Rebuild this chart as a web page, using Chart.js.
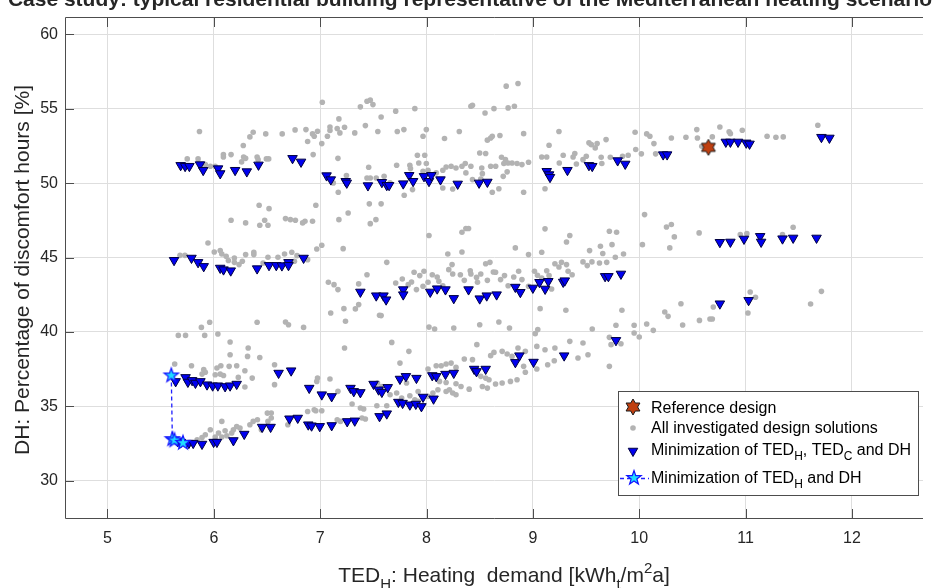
<!DOCTYPE html>
<html><head><meta charset="utf-8">
<script src="https://cdn.jsdelivr.net/npm/chart.js@4/dist/chart.umd.min.js"></script>
<style>html,body{margin:0;padding:0;background:#fff;overflow:hidden}#wrap{width:932px;height:588px;position:relative}</style>
</head><body><div id="wrap"><canvas id="c" width="932" height="588"></canvas></div>
<script>
const xTicks=[5,6,7,8,9,10,11,12];
const yTicks=[30,35,40,45,50,55,60];
const chartTitle='Case study: typical residential building representative of the Mediterranean heating scenario';
const yTitle='DH: Percentage of discomfort hours [%]';
const legendLabels=['Reference design','All investigated design solutions'];

const referenceDesign=[[10.65,52.41]];

const minTEDhDH=[[5.60,37.08],[5.61,32.80],[5.63,32.72],[5.71,32.55]];

const minTEDhTEDcDH=[
[5.688,51.2],[5.73,51.14],[5.77,51.14],[5.87,51.25],[5.90,50.87],[6.04,50.98],[6.06,50.65],[6.20,50.87],[6.31,50.78],[6.42,51.23],[6.74,51.67],[6.82,51.43],[7.06,50.51],[7.10,50.24],[7.24,50.13],[7.25,50.02],
[7.449,49.84],[7.58,50.06],[7.626,49.86],[7.648,49.86],[7.781,49.97],[7.837,50.53],[7.874,50.13],[7.976,50.46],[8.023,50.13],[8.045,50.53],[8.131,50.24],[8.293,49.95],[8.494,50.02],[8.572,50.08],[9.13,50.8],[9.152,50.58],[9.161,50.4],[9.325,50.87],[9.527,51.2],[9.558,51.14],[9.797,51.52],[9.868,51.29],
[10.225,51.92],[10.262,51.92],[10.814,52.77],[10.857,52.77],[10.929,52.77],[11.006,52.71],[11.037,52.64],[11.713,53.09],[11.788,53.04],
[5.626,44.82],[5.79,44.97],[5.852,44.68],[5.905,44.41],[6.06,44.3],[6.091,44.19],[6.159,44.12],[6.407,44.26],[6.519,44.48],[6.587,44.48],[6.64,44.46],[6.702,44.68],[6.702,44.48],[6.844,44.97],
[7.378,42.69],[7.527,42.44],[7.595,42.44],[7.62,42.17],[7.781,42.85],[7.781,42.51],[8.035,42.69],[8.1,42.91],[8.178,42.85],[8.256,42.26],[8.395,42.85],[8.5,42.24],[8.566,42.44],[8.659,42.51],[8.835,43.02],[8.882,42.67],[9.0,42.96],[9.062,43.34],[9.115,42.89],[9.145,43.41],[9.285,43.36],[9.3,43.45],[9.679,43.74],[9.71,43.74],[9.828,43.9],[9.781,39.44],
[10.758,46.03],[10.857,46.05],[10.985,46.25],[11.137,46.43],[11.146,46.05],[11.347,46.27],[11.447,46.32],[11.667,46.32],[10.758,41.9],[11.028,42.13],
[5.641,36.68],[5.734,36.95],[5.756,36.64],[5.796,36.75],[5.827,36.57],[5.874,36.68],[5.936,36.46],[5.989,36.39],[6.038,36.39],[6.106,36.34],[6.153,36.39],[6.215,36.5],[6.609,37.24],[6.727,37.4],[6.897,36.23],[7.015,35.79],[7.108,35.67],[7.285,36.23],[7.316,36.01],
[5.66,32.65],[5.69,32.6],[5.765,32.53],[5.806,32.53],[5.889,32.47],[5.998,32.6],[6.029,32.6],[6.184,32.71],[6.286,33.14],[6.454,33.61],[6.534,33.61],[6.711,34.17],[6.789,34.22],[6.888,33.77],[6.919,33.7],[6.996,33.66],[7.108,33.72],[7.254,33.99],[7.325,34.03],
[7.378,35.94],[7.502,36.5],[7.549,36.12],[7.58,35.96],[7.635,36.28],[7.75,36.84],[7.806,37.02],[7.905,36.9],[8.054,37.08],[8.091,37.02],[8.178,37.17],[8.256,37.24],[8.448,37.51],[8.47,37.35],[8.556,37.51],[8.835,37.96],[8.873,38.41],[9.006,37.98],[9.294,38.41],[7.558,34.33],[7.626,34.51],[7.735,35.29],[7.775,35.22],[7.843,35.11],[7.899,35.16],[7.952,35.0],[7.967,35.63],[8.066,35.51]
];

const allSolutions=[
[7.02,55.44],[5.865,53.47],[5.75,51.63],[5.852,51.63],[5.92,51.25],[5.967,51.14],[6.013,51.14],[6.09,51.92],[6.09,51.76],[6.162,51.92],[6.277,52.53],[6.339,53.11],[6.37,53.42],[6.488,53.31],[6.643,53.31],[6.764,53.58],[6.866,53.6],[6.882,52.8],[6.928,53.31],[6.944,53.15],[6.975,53.49],[7.015,52.66],[7.068,53.15],[7.092,53.78],[7.092,53.54],[7.16,53.67],[7.176,54.32],[7.185,53.38],[7.229,53.76],[7.325,53.38],[6.28,51.76],[6.299,51.67],[6.261,51.43],[6.407,51.76],[6.416,51.58],[6.494,51.63],[6.516,51.63],[6.934,51.92],[7.167,51.67],[7.123,50.02],[7.17,49.39],[7.247,50.51],
[7.378,55.13],[7.44,55.51],[7.471,55.58],[7.496,55.28],[7.425,53.87],[7.573,54.45],[7.542,53.47],[7.71,54.84],[7.725,53.47],[7.787,53.6],[7.89,55.01],[7.967,53.15],[7.998,53.6],[8.169,53.0],[8.308,53.47],[8.417,55.17],[8.432,55.24],[8.55,54.72],[8.634,55.01],[8.749,56.52],[8.86,56.7],[8.767,55.06],[8.826,55.17],[8.572,52.89],[8.603,53.04],[8.618,53.15],[8.69,53.2],[8.913,53.33],[8.5,52.03],[8.556,51.99],[7.456,51.07],[7.44,50.35],[7.471,50.35],[7.527,50.35],[7.601,50.46],[7.719,51.2],[7.843,51.2],[7.849,50.98],[7.914,51.88],[7.983,51.88],[7.927,51.36],[7.998,51.32],[8.014,50.87],[7.657,50.02],[7.79,49.19],[7.868,49.57],[7.967,50.8],[8.091,50.69],[8.153,50.87],[8.184,51.09],[8.231,51.14],[8.277,51.02],[8.333,51.14],[8.364,51.32],[8.417,51.14],[8.37,50.69],[8.432,50.24],[8.519,51.02],[8.525,50.64],[8.51,50.28],[8.603,51.14],[8.65,51.14],[8.705,51.74],[8.742,51.58],[8.727,51.32],[8.767,51.36],[8.804,51.36],[8.851,51.32],[8.897,51.25],[8.959,51.41],[8.721,50.46],[8.758,50.76],[8.618,49.39],[8.68,49.63],[8.153,49.68],[8.246,49.61],[8.913,49.39],[9.083,51.76],[9.13,51.76],[9.152,52.55],[9.245,53.47],[9.114,49.63],[9.248,51.36],[9.285,51.88],[9.378,51.76],[9.394,51.99],[9.409,51.29],[9.471,51.58],[9.502,51.81],[9.527,52.71],[9.549,52.59],[9.586,52.37],[9.604,52.66],[9.642,51.74],[9.648,51.32],[9.688,52.93],[9.728,51.74],[9.843,51.81],[9.896,51.88],[9.961,53.42],[9.967,52.26],[10.02,51.97],[10.07,53.31],[10.1,53.15],
[10.138,52.66],[10.154,51.97],[10.302,53.04],[10.439,53.09],[10.541,53.6],[10.547,53.04],[10.588,52.48],[10.687,53.11],[10.758,53.78],[10.845,53.45],[10.857,53.33],[10.969,53.56],[11.202,53.15],[11.285,53.09],[11.354,53.11],[11.679,53.89],
[7.263,48.0],[7.176,47.55],[6.959,48.52],[6.426,48.52],[6.519,48.29],[6.162,47.51],[6.299,47.33],[6.432,47.17],[6.478,47.51],[6.509,47.17],[6.674,47.62],[6.72,47.55],[6.767,47.51],[6.835,47.33],[6.857,47.44],[6.928,47.44],[5.945,45.98],[5.682,45.15],[5.728,45.15],[6.004,45.38],[6.06,45.47],[6.075,45.24],[6.116,45.09],[6.137,44.8],[6.193,44.97],[6.193,44.68],[6.237,44.53],[6.268,44.75],[6.299,45.2],[6.376,45.36],[6.376,45.2],[6.463,44.64],[6.509,45.02],[6.603,45.02],[6.665,45.24],[6.733,45.36],[6.758,44.75],[6.782,45.13],[6.882,44.86],[6.968,45.58],[7.015,45.83],[7.216,45.6],[7.077,43.34],[7.13,43.18],[7.167,42.85],[7.099,41.28],[7.223,41.57],[7.331,41.55],[7.238,40.72],[5.883,40.31],[5.961,40.65],[6.407,40.65],[6.674,40.67],[6.702,40.49],[6.844,40.31],
[7.462,48.61],[7.573,48.61],[7.471,47.28],[7.524,47.55],[8.023,46.48],[8.333,46.7],[8.37,46.95],[8.395,46.95],[8.2,45.24],[8.333,45.38],[8.835,45.65],[8.959,45.2],[9.114,46.93],[9.083,45.36],[9.316,46.05],[9.347,46.48],[9.533,45.47],[9.635,45.76],[9.719,46.77],[9.787,46.7],[9.657,45.27],[9.744,45.87],[9.852,45.24],[10.03,45.87],[10.05,47.89],[7.626,44.68],[7.44,43.85],[7.362,43.23],[7.71,43.29],[7.772,43.56],[7.828,43.18],[7.859,43.36],[7.883,44.01],[7.936,43.79],[7.976,44.08],[7.905,42.85],[7.967,43.07],[8.014,43.34],[8.054,43.85],[8.1,43.7],[8.116,43.41],[8.153,43.11],[8.209,44.19],[8.24,44.53],[8.246,43.9],[8.318,43.85],[8.355,43.47],[8.411,44.12],[8.417,43.9],[8.47,43.67],[8.479,43.34],[8.51,43.9],[8.556,44.59],[8.596,44.68],[8.572,43.47],[8.628,44.03],[8.649,44.01],[8.696,43.52],[8.733,43.79],[8.767,43.11],[8.82,43.7],[8.866,44.08],[8.897,43.52],[8.959,43.07],[9.015,44.08],[9.043,43.81],[9.083,43.63],[9.13,44.12],[9.152,43.79],[9.176,42.89],[9.207,44.59],[9.245,44.37],[9.269,44.68],[9.316,44.53],[9.331,44.08],[9.369,43.85],[9.471,44.71],[9.511,44.46],[9.555,44.71],[9.626,44.64],[9.694,44.68],[9.775,45.02],[7.362,41.84],[7.558,41.12],[7.573,41.1],[8.023,40.33],[8.076,40.2],[8.256,40.27],[8.5,40.49],[8.68,40.67],[8.78,40.27],[9.068,41.57],[9.31,41.46],[9.022,39.89],[9.046,40.16],[9.558,40.2],[9.781,40.45],[9.837,41.46],[9.952,40.45],[10.07,40.54],[9.719,39.64],
[10.256,47.06],[10.302,47.22],[10.33,46.39],[10.287,45.65],[10.563,46.66],[10.95,46.54],[11.012,46.61],[11.347,46.54],[11.447,47.04],[11.043,42.69],[11.093,42.33],[11.022,41.28],[10.696,41.68],[10.392,41.9],[10.24,41.34],[10.271,41.05],[10.132,40.11],[10.408,40.47],[10.566,40.78],[10.665,40.87],[10.687,40.87],[11.611,41.88],[11.713,42.73],
[5.666,39.77],[5.734,39.77],[5.914,39.77],[6.038,39.86],[6.153,39.33],[6.323,38.92],[6.153,38.47],[6.317,38.36],[6.432,38.29],[5.632,37.85],[5.79,37.73],[5.905,37.47],[5.92,37.29],[5.889,37.17],[6.029,37.58],[6.066,37.73],[6.144,37.69],[6.215,37.73],[6.013,37.13],[6.06,37.17],[6.091,37.08],[6.23,36.95],[6.292,37.4],[6.361,36.9],[6.292,36.3],[6.571,37.8],[6.571,36.46],[7.229,38.92],[6.975,36.9],[6.968,36.68],[7.092,36.84],[7.167,36.01],[7.3,35.16],[6.882,34.66],[6.944,34.77],[6.959,34.71],[7.015,34.71],[6.503,34.55],[6.54,34.55],[6.41,34.1],[6.37,33.99],[6.339,33.77],[6.246,33.54],[6.215,33.65],[6.184,33.43],[6.168,33.21],[6.122,33.03],[6.106,33.36],[6.075,33.99],[6.044,33.21],[6.013,32.94],[5.967,33.43],[5.92,33.09],[5.889,32.91],[5.843,32.76],[6.075,32.94],[6.509,33.99],[6.447,33.43],[6.54,34.22],[6.696,33.77],[7.16,34.1],[7.191,33.99],
[7.673,39.3],[7.834,38.7],[7.75,37.91],[8.473,39.15],[7.812,36.57],[7.921,36.0],[8.014,37.51],[8.091,37.73],[8.138,37.73],[8.184,37.85],[8.231,37.91],[8.277,37.62],[8.355,38.18],[8.432,38.14],[8.603,38.41],[8.634,38.63],[8.711,38.7],[8.758,38.52],[8.804,38.36],[8.86,38.92],[8.929,38.7],[9.037,39.03],[9.114,38.81],[9.207,38.92],[9.347,39.37],[9.471,39.26],[9.518,38.47],[9.424,38.25],[9.201,38.07],[9.139,37.8],[9.037,37.51],[8.913,37.69],[8.929,37.29],[8.851,36.79],[8.789,36.68],[8.711,36.57],[8.649,36.5],[8.587,36.79],[8.556,36.9],[8.51,37.02],[8.525,36.34],[8.572,36.23],[8.401,36.16],[8.324,36.34],[8.277,36.52],[8.215,36.12],[8.184,36.0],[8.107,36.12],[8.06,35.9],[8.014,35.67],[8.122,36.68],[8.184,36.61],[8.246,35.9],[8.277,35.78],[7.719,35.9],[7.766,35.56],[7.89,35.45],[7.921,35.34],[7.843,35.72],[7.533,35.04],[7.626,35.04],[7.409,34.82],[7.378,34.89],[7.393,34.22],[7.425,34.15],[9.719,37.69],[9.735,39.15],[9.828,39.21],[9.952,39.93],[10.0,39.66],[7.539,36.57],[7.58,36.34],[7.657,35.78]
];

const FONT='"Liberation Sans", Arial, Helvetica, sans-serif';
const toXY=a=>a.map(([x,y])=>({x,y}));

function starCanvas(n,R,ri,fill,stroke,lw){
  const s=Math.ceil(2*R+2*lw+2); const c=document.createElement('canvas'); c.width=c.height=s;
  const g=c.getContext('2d'); const cx=s/2, cy=s/2;
  g.beginPath();
  for(let i=0;i<n*2;i++){const a=-Math.PI/2+i*Math.PI/n; const r=(i%2)?ri:R; const px=cx+r*Math.cos(a), py=cy+r*Math.sin(a); if(i) g.lineTo(px,py); else g.moveTo(px,py);}
  g.closePath(); g.fillStyle=fill; g.fill(); g.lineWidth=lw; g.strokeStyle=stroke; g.stroke(); return c;
}
const hexImg=starCanvas(6,8,8/Math.sqrt(3),'#bf3f10','#1a1a1a',1);
const pentImg=starCanvas(5,7.5,7.5*0.40,'#20dcff','#1414ff',1.2);
const TRI_FILL='#0000f0', TRI_EDGE='#000040', GRAY='#b3b3b3';

function drawSegs(ctx,segs,x,y,size){
  let cx=x;
  segs.forEach(s=>{
    const sz=s.sub||s.sup?Math.round(size*0.72):size;
    ctx.font=sz+'px '+FONT;
    const dy=s.sub?size*0.32:(s.sup?-size*0.42:0);
    ctx.fillText(s.t,cx,y+dy);
    cx+=ctx.measureText(s.t).width;
  });
  return cx-x;
}
function segsWidth(ctx,segs,size){
  let w=0; segs.forEach(s=>{const sz=s.sub||s.sup?Math.round(size*0.72):size; ctx.font=sz+'px '+FONT; w+=ctx.measureText(s.t).width;}); return w;
}

const deco={id:'deco',afterDraw(chart){
  const {ctx,chartArea:a,scales:{x,y}}=chart;
  ctx.save();
  ctx.strokeStyle='#4d4d4d'; ctx.lineWidth=1;
  ctx.beginPath();
  ctx.moveTo(a.left-0.5,a.top-0.5); ctx.lineTo(a.left-0.5,a.bottom+0.5); ctx.lineTo(a.right,a.bottom+0.5);
  ctx.moveTo(a.left-0.5,a.top-0.5); ctx.lineTo(a.right,a.top-0.5);
  xTicks.forEach(v=>{const px=Math.round(x.getPixelForValue(v))+0.5; ctx.moveTo(px,a.bottom); ctx.lineTo(px,a.bottom-9); ctx.moveTo(px,a.top); ctx.lineTo(px,a.top+9);});
  yTicks.forEach(v=>{const py=Math.round(y.getPixelForValue(v))+0.5; ctx.moveTo(a.left,py); ctx.lineTo(a.left+8,py);});
  ctx.stroke();

  // titles
  ctx.fillStyle='#262626';
  ctx.textBaseline='alphabetic';
  ctx.textAlign='center';
  ctx.font='bold 21px '+FONT;
  ctx.fillText(chartTitle,470,6);
  ctx.textAlign='left';
  const xt=[{t:'TED'},{t:'H',sub:1},{t:': Heating  demand [kWh'},{t:'t',sub:1},{t:'/m'},{t:'2',sup:1},{t:'a]'}];
  const w=segsWidth(ctx,xt,21);
  drawSegs(ctx,xt,504-w/2,582,21);
  ctx.save(); ctx.translate(29,270); ctx.rotate(-Math.PI/2); ctx.textAlign='center'; ctx.font='21px '+FONT; ctx.fillText(yTitle,0,0); ctx.restore();

  // legend
  const L=618.5,T=391.5,W=300,H=104;
  ctx.fillStyle='#fff'; ctx.fillRect(L,T,W,H);
  ctx.strokeStyle='#4d4d4d'; ctx.strokeRect(L,T,W,H);
  ctx.drawImage(hexImg,633-hexImg.width/2,407-hexImg.height/2);
  ctx.fillStyle=GRAY; ctx.beginPath(); ctx.arc(633,428,2.8,0,Math.PI*2); ctx.fill();
  ctx.beginPath(); const tr=5.5, tx=633, ty=451;
  ctx.moveTo(tx,ty+tr); ctx.lineTo(tx-tr*0.866,ty-tr/2); ctx.lineTo(tx+tr*0.866,ty-tr/2); ctx.closePath();
  ctx.fillStyle=TRI_FILL; ctx.fill(); ctx.strokeStyle=TRI_EDGE; ctx.stroke();
  ctx.save(); ctx.setLineDash([4,3]); ctx.strokeStyle='#2020ff'; ctx.lineWidth=1.3; ctx.beginPath(); ctx.moveTo(620,478.5); ctx.lineTo(649,478.5); ctx.stroke(); ctx.restore();
  ctx.drawImage(pentImg,634-pentImg.width/2,478-pentImg.height/2);
  ctx.fillStyle='#000'; ctx.textAlign='left'; ctx.textBaseline='alphabetic';
  const fs=16;
  drawSegs(ctx,[{t:legendLabels[0]}],651,413,fs);
  drawSegs(ctx,[{t:legendLabels[1]}],651,433,fs);
  drawSegs(ctx,[{t:'Minimization of TED'},{t:'H',sub:1},{t:', TED'},{t:'C',sub:1},{t:' and DH'}],651,455,fs);
  drawSegs(ctx,[{t:'Minimization of TED'},{t:'H',sub:1},{t:' and DH'}],651,483,fs);
  ctx.restore();
}};

new Chart(document.getElementById('c'),{
  type:'scatter',
  data:{datasets:[
    {label:'Minimization of TEDH and DH',data:toXY(minTEDhDH),showLine:true,borderColor:'#2020ff',borderDash:[4,3],borderWidth:1.3,pointStyle:pentImg,pointRadius:7,order:1,fill:false},
    {label:'Reference design',data:toXY(referenceDesign),pointStyle:hexImg,pointRadius:8,order:2},
    {label:'Minimization of TEDH, TEDC and DH',data:toXY(minTEDhTEDcDH),pointStyle:'triangle',rotation:180,pointRadius:5.5,backgroundColor:TRI_FILL,borderColor:TRI_EDGE,borderWidth:1,order:3},
    {label:'All investigated design solutions',data:toXY(allSolutions),pointStyle:'circle',pointRadius:2.8,backgroundColor:GRAY,borderWidth:0,order:4}
  ]},
  options:{
    responsive:false,animation:false,devicePixelRatio:1,
    layout:{padding:{top:18,left:0,right:0,bottom:0}},
    plugins:{legend:{display:false},tooltip:{enabled:false},title:{display:false}},
    scales:{
      x:{type:'linear',min:4.61,max:12.668,
        afterFit:s=>{s.height=70;},
        afterBuildTicks:s=>{s.ticks=xTicks.map(v=>({value:v}));},
        grid:{color:'#dedede',drawTicks:false},border:{display:false},
        ticks:{font:{family:FONT,size:16},color:'#262626',padding:11,maxRotation:0,autoSkip:false}},
      y:{type:'linear',min:27.5,max:61.1,
        afterFit:s=>{s.width=66;},
        afterBuildTicks:s=>{s.ticks=yTicks.map(v=>({value:v}));},
        grid:{color:'#dedede',drawTicks:false},border:{display:false},
        ticks:{font:{family:FONT,size:16},color:'#262626',padding:8,autoSkip:false}}
    }
  },
  plugins:[deco]
});
</script></body></html>
